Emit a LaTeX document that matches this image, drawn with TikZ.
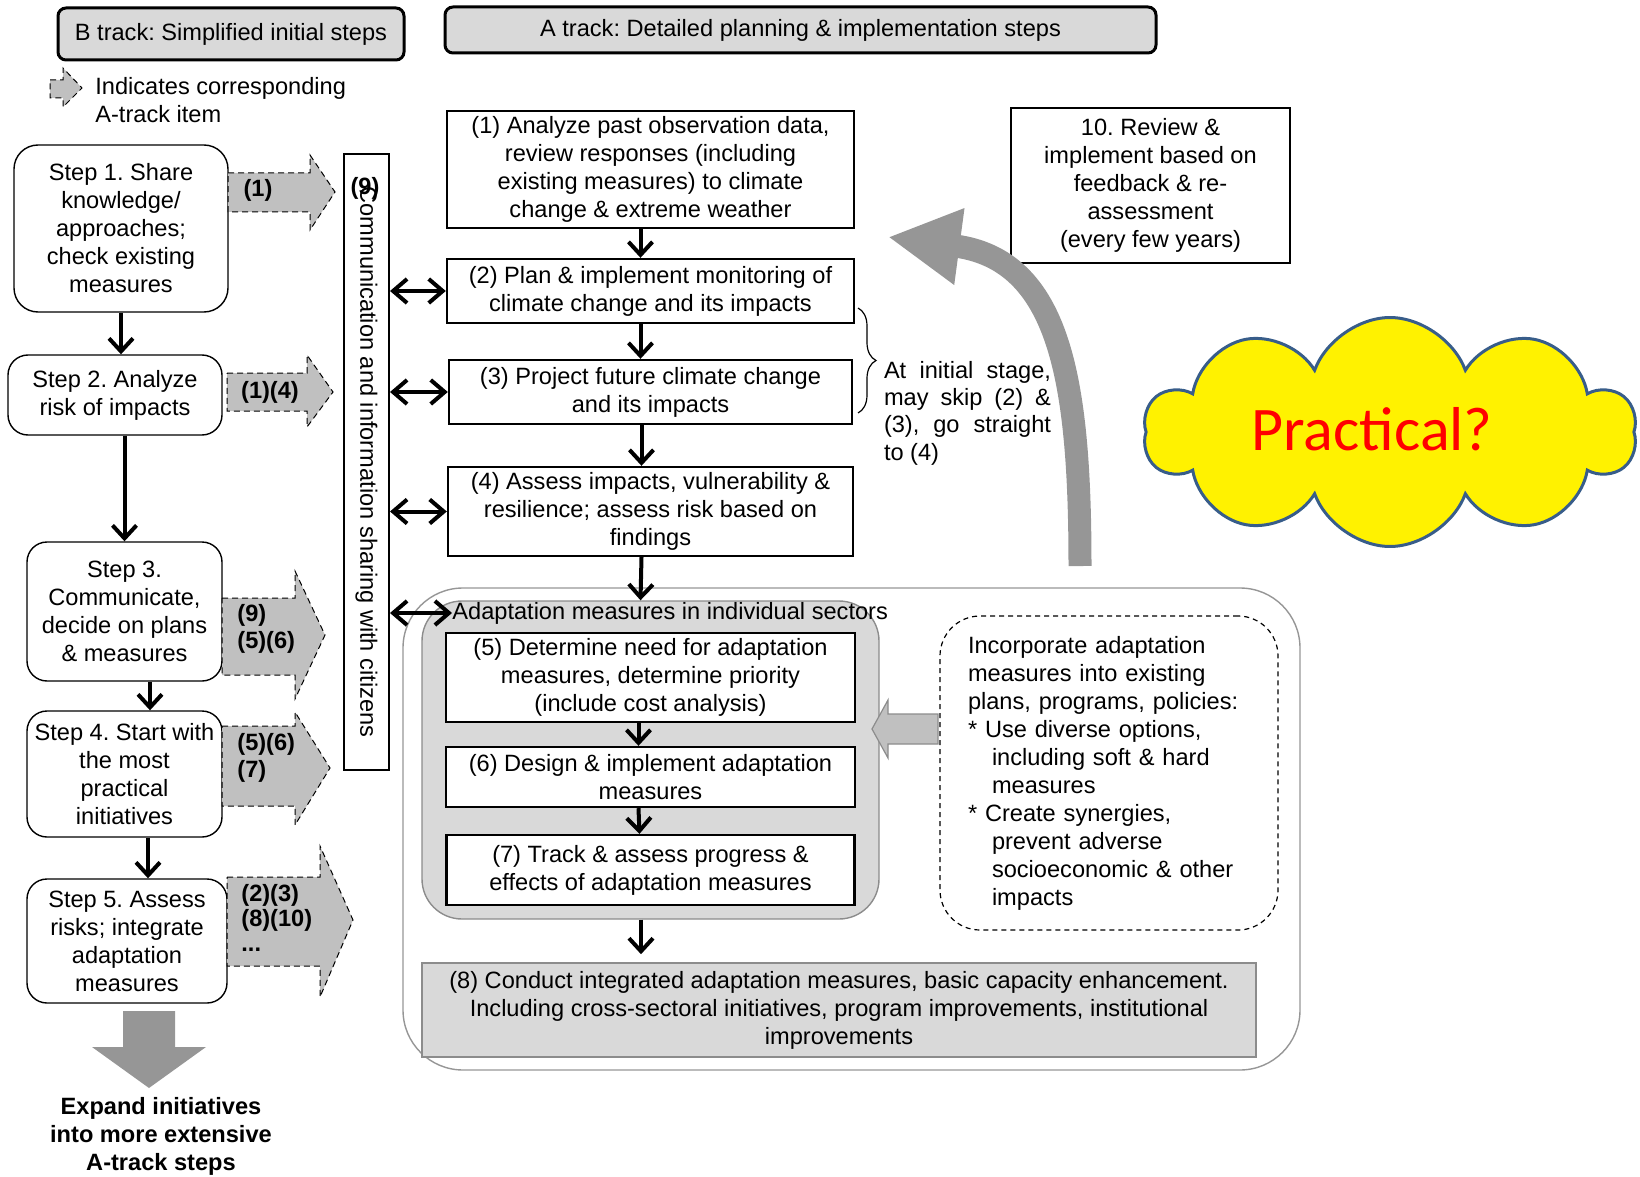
\documentclass[tikz,border=0pt]{standalone}
\usepackage{fontspec}
\setmainfont{Liberation Sans}
\newfontfamily\calibri{Carlito}
\usepackage{tikz}
\usetikzlibrary{positioning,arrows.meta,shapes.symbols,decorations.pathreplacing}
\frenchspacing

\definecolor{hdrgray}{HTML}{D9D9D9}
\definecolor{taggray}{HTML}{C0C0C0}
\definecolor{biggray}{HTML}{969696}
\definecolor{edgegray}{HTML}{8C8C8C}
\definecolor{cloudedge}{RGB}{56,93,138}

\tikzset{
    hdr/.style={draw, line width=1.5pt, rounded corners=4pt, fill=hdrgray, inner sep=0pt},
    stepbox/.style={draw, fill=white, line width=0.7pt, rounded corners=10pt, align=center, inner sep=0pt},
    abox/.style={draw, fill=white, line width=1.2pt, align=center, inner sep=0pt},
    tagarrow/.style={draw, fill=taggray, line width=0.5pt, dash pattern=on 3pt off 2pt},
    flow/.style={line width=2pt, -{Straight Barb[length=6.5pt,width=12pt]}},
    twoway/.style={line width=2pt, {Straight Barb[length=7pt,width=12pt]}-{Straight Barb[length=7pt,width=12pt]}},
    tag/.style={font=\fontsize{11.8}{13.5}\selectfont\bfseries, align=left, inner sep=0pt}
}

\begin{document}
\begin{tikzpicture}[x=0.5pt, y=-0.5pt, font=\fontsize{11.8}{14}\selectfont, node distance=50pt, on grid]

    \useasboundingbox (0,0) rectangle (1640,1177);

    \node[hdr, minimum width=173pt, minimum height=26pt] (hdrB) at (231,34) {B track: Simplified initial steps};
    \node[hdr, minimum width=355.5pt, minimum height=23pt] (hdrA) at (800.5,30) {A track: Detailed planning \& implementation steps};

    \draw[tagarrow] (50,80) -- (63,80) -- (63,68) -- (82,88) -- (63,107) -- (63,98) -- (50,98) -- cycle;
    \node[anchor=west, align=left, inner sep=0pt] (legend) at (95,100) {Indicates corresponding\\A-track item};

    % B track
    \node[stepbox, rounded corners=12pt, minimum width=107pt, minimum height=83.5pt] (s1) at (121,228.5) {Step 1. Share\\knowledge/\\approaches;\\check existing\\measures};
    \node[stepbox, minimum width=107pt, minimum height=40pt] (s2) at (115,395) {Step 2. Analyze\\risk of impacts};
    \node[stepbox, minimum width=97.5pt, minimum height=69.5pt] (s3) at (124.5,611.5) {Step 3.\\Communicate,\\decide on plans\\\& measures};
    \node[stepbox, minimum width=97.5pt, minimum height=63pt] (s4) [below=81.25pt of s3] {Step 4. Start with\\the most\\practical\\initiatives};
    \node[stepbox, minimum width=100pt, minimum height=62pt] (s5) at (127,941) {Step 5. Assess\\risks; integrate\\adaptation\\measures};

    \draw[flow] (s1.south) -- (s1.south |- s2.north);
    \draw[flow] (s3.north |- s2.south) -- (s3.north);
    \draw[flow] ([xshift=12.75pt]s3.south) -- ([xshift=12.75pt]s4.north);
    \draw[flow] ([xshift=11.75pt]s4.south) -- ([xshift=10.5pt]s5.north);

    \draw[tagarrow] (228,173) -- (310,173) -- (310,155) -- (335,192) -- (310,230) -- (310,212) -- (228,212) -- cycle;
    \draw[tagarrow] (227,373) -- (307,373) -- (307,355) -- (333,392) -- (307,427) -- (307,411) -- (227,411) -- cycle;
    \draw[tagarrow] (222,598) -- (295,598) -- (295,571) -- (325,635) -- (295,699) -- (295,675) -- (222,675) -- cycle;
    \draw[tagarrow] (222,726) -- (295,726) -- (295,712) -- (330,768) -- (295,825) -- (295,806) -- (222,806) -- cycle;
    \draw[tagarrow] (227,877) -- (320,877) -- (320,846) -- (353,920) -- (320,997) -- (320,966) -- (227,966) -- cycle;
    \node[tag] (t1) at (258,190) {(1)};
    \node[tag] (t2) at (270,392) {(1)(4)};
    \node[tag, anchor=west] (t3) at (237,628.5) {(9)\\(5)(6)};
    \node[tag, anchor=west] (t4) at (237,757.5) {(5)(6)\\(7)};
    \node[tag, anchor=west, font=\fontsize{11.8}{12.5}\selectfont\bfseries] (t5) at (241,918) {(2)(3)\\(8)(10)\\...};

    \draw[fill=biggray, draw=none] (123,1011) -- (175,1011) -- (175,1047) -- (206,1047) -- (149,1088) -- (92,1047) -- (123,1047) -- cycle;
    \node[align=center, font=\fontsize{11.8}{14}\selectfont\bfseries] (expand) at (161,1136) {Expand initiatives\\into more extensive\\A-track steps};

    % communication column
    \node[draw, line width=1pt, minimum width=22.5pt, minimum height=308pt, inner sep=0pt] (comm) at (366.5,462) {};
    \node[rotate=-90, inner sep=0pt] (commtext) at (comm.center) {Communication and information sharing with citizens};
    \node[tag] (t9) at (365,188) {(9)};

    % A track
    \node[draw=biggray, line width=0.7pt, rounded corners=30pt, minimum width=448.5pt, minimum height=241pt] (adapt) at (851.5,829) {};
    \node[draw=edgegray, fill=hdrgray, line width=0.7pt, rounded corners=20pt, minimum width=228.5pt, minimum height=159pt] (sector) at (650.5,760) {};
    \node[anchor=west, inner sep=0pt] (adlab) at (452,613) {Adaptation measures in individual sectors};

    \node[abox, minimum width=203.5pt, minimum height=58.5pt] (a1) at (650.5,169.5) {(1) Analyze past observation data,\\review responses (including\\existing measures) to climate\\change \& extreme weather};
    \node[abox, minimum width=203.5pt, minimum height=32pt] (a2) [below=60.75pt of a1] {(2) Plan \& implement monitoring of\\climate change and its impacts};
    \node[abox, minimum width=201.5pt, minimum height=32pt] (a3) [below=50.5pt of a2] {(3) Project future climate change\\and its impacts};
    \node[abox, minimum width=202.5pt, minimum height=44.5pt] (a4) [below=59.75pt of a3] {(4) Assess impacts, vulnerability \&\\resilience; assess risk based on\\findings};
    \node[abox, minimum width=204.5pt, minimum height=44.5pt] (a5) at (650.5,677.5) {(5) Determine need for adaptation\\measures, determine priority\\(include cost analysis)};
    \node[abox, minimum width=204.5pt, minimum height=30pt] (a6) [below=49.75pt of a5] {(6) Design \& implement adaptation\\measures};
    \node[abox, minimum width=204pt, minimum height=35pt] (a7) [below=46.5pt of a6] {(7) Track \& assess progress \&\\effects of adaptation measures};
    \node[abox, draw=edgegray, fill=hdrgray, line width=0.8pt, minimum width=417pt, minimum height=47pt] (a8) at (839,1010) {(8) Conduct integrated adaptation measures, basic capacity enhancement.\\Including cross-sectoral initiatives, program improvements, institutional\\improvements};
    \node[abox, line width=1pt, minimum width=139.5pt, minimum height=77.5pt] (a10) at (1150.5,185.5) {10. Review \&\\implement based on\\feedback \& re-\\assessment\\(every few years)};

    \draw[flow] ([xshift=-5pt]a1.south) -- ([xshift=-5pt]a2.north);
    \draw[flow] ([xshift=-5pt]a2.south) -- ([xshift=-5pt]a3.north);
    \draw[flow] ([xshift=-4.5pt]a3.south) -- ([xshift=-4.5pt]a4.north);
    \draw[flow] ([xshift=-4.5pt]a4.south) -- ([xshift=-5pt]sector.north);
    \draw[flow] ([xshift=-6pt]a5.south) -- ([xshift=-6pt]a6.north);
    \draw[flow] ([xshift=-6pt]a6.south) -- ([xshift=-5.5pt]a7.north);
    \draw[flow, shorten >=4pt] ([xshift=-4.75pt]sector.south) -- ([xshift=-99pt]a8.north);

    \draw[twoway] (comm.east |- a2.west) -- (a2.west);
    \draw[twoway] (comm.east |- a3.west) -- (a3.west);
    \draw[twoway] (comm.east |- a4.west) -- (a4.west);
    \draw[twoway] (comm.east |- adlab.west) -- (adlab.west);

    \node[draw, line width=0.6pt, dash pattern=on 2.5pt off 2pt, rounded corners=20pt, minimum width=169pt, minimum height=157pt, text width=141pt, inner xsep=14pt, align=left] (note) at (1109,773) {Incorporate adaptation\\measures into existing\\plans, programs, policies:\\{*} Use diverse options,\\\hspace*{12pt}including soft \& hard\\\hspace*{12pt}measures\\{*} Create synergies,\\\hspace*{12pt}prevent adverse\\\hspace*{12pt}socioeconomic \& other\\\hspace*{12pt}impacts};
    \draw[fill=taggray, draw=edgegray, line width=0.6pt] (938,714) -- (888,714) -- (888,700) -- (872,729) -- (888,758) -- (888,744) -- (938,744) -- cycle;

    \draw[decorate, decoration={brace, amplitude=9pt}, line width=0.6pt] (858,308) -- (858,413);
    \node[align=justify, text width=83.5pt, inner sep=0pt, font=\fontsize{11.8}{13.7}\selectfont] (skip) at (967.5,413) {At initial stage,\linebreak may skip (2) \&\linebreak (3), go straight\linebreak to (4)};

    \coordinate (loopfoot) at (1080,566);
    \coordinate (looptip) at (888,237);
    \draw[biggray, line width=11.5pt, -{Triangle[width=36pt,length=36pt]}] (loopfoot) .. controls (1080,380) and (1060,260) .. (looptip);

    \node[cloud, cloud puffs=10, cloud puff arc=140, aspect=2.15, draw=cloudedge, fill=yellow, line width=1.5pt, minimum width=246pt, minimum height=114.5pt, inner sep=0pt] (cloud) at (1390,432) {};
    \node[text=red, font=\calibri\fontsize{31}{36}\selectfont] (practical) at (1372,429) {Practical?};

\end{tikzpicture}
\end{document}
